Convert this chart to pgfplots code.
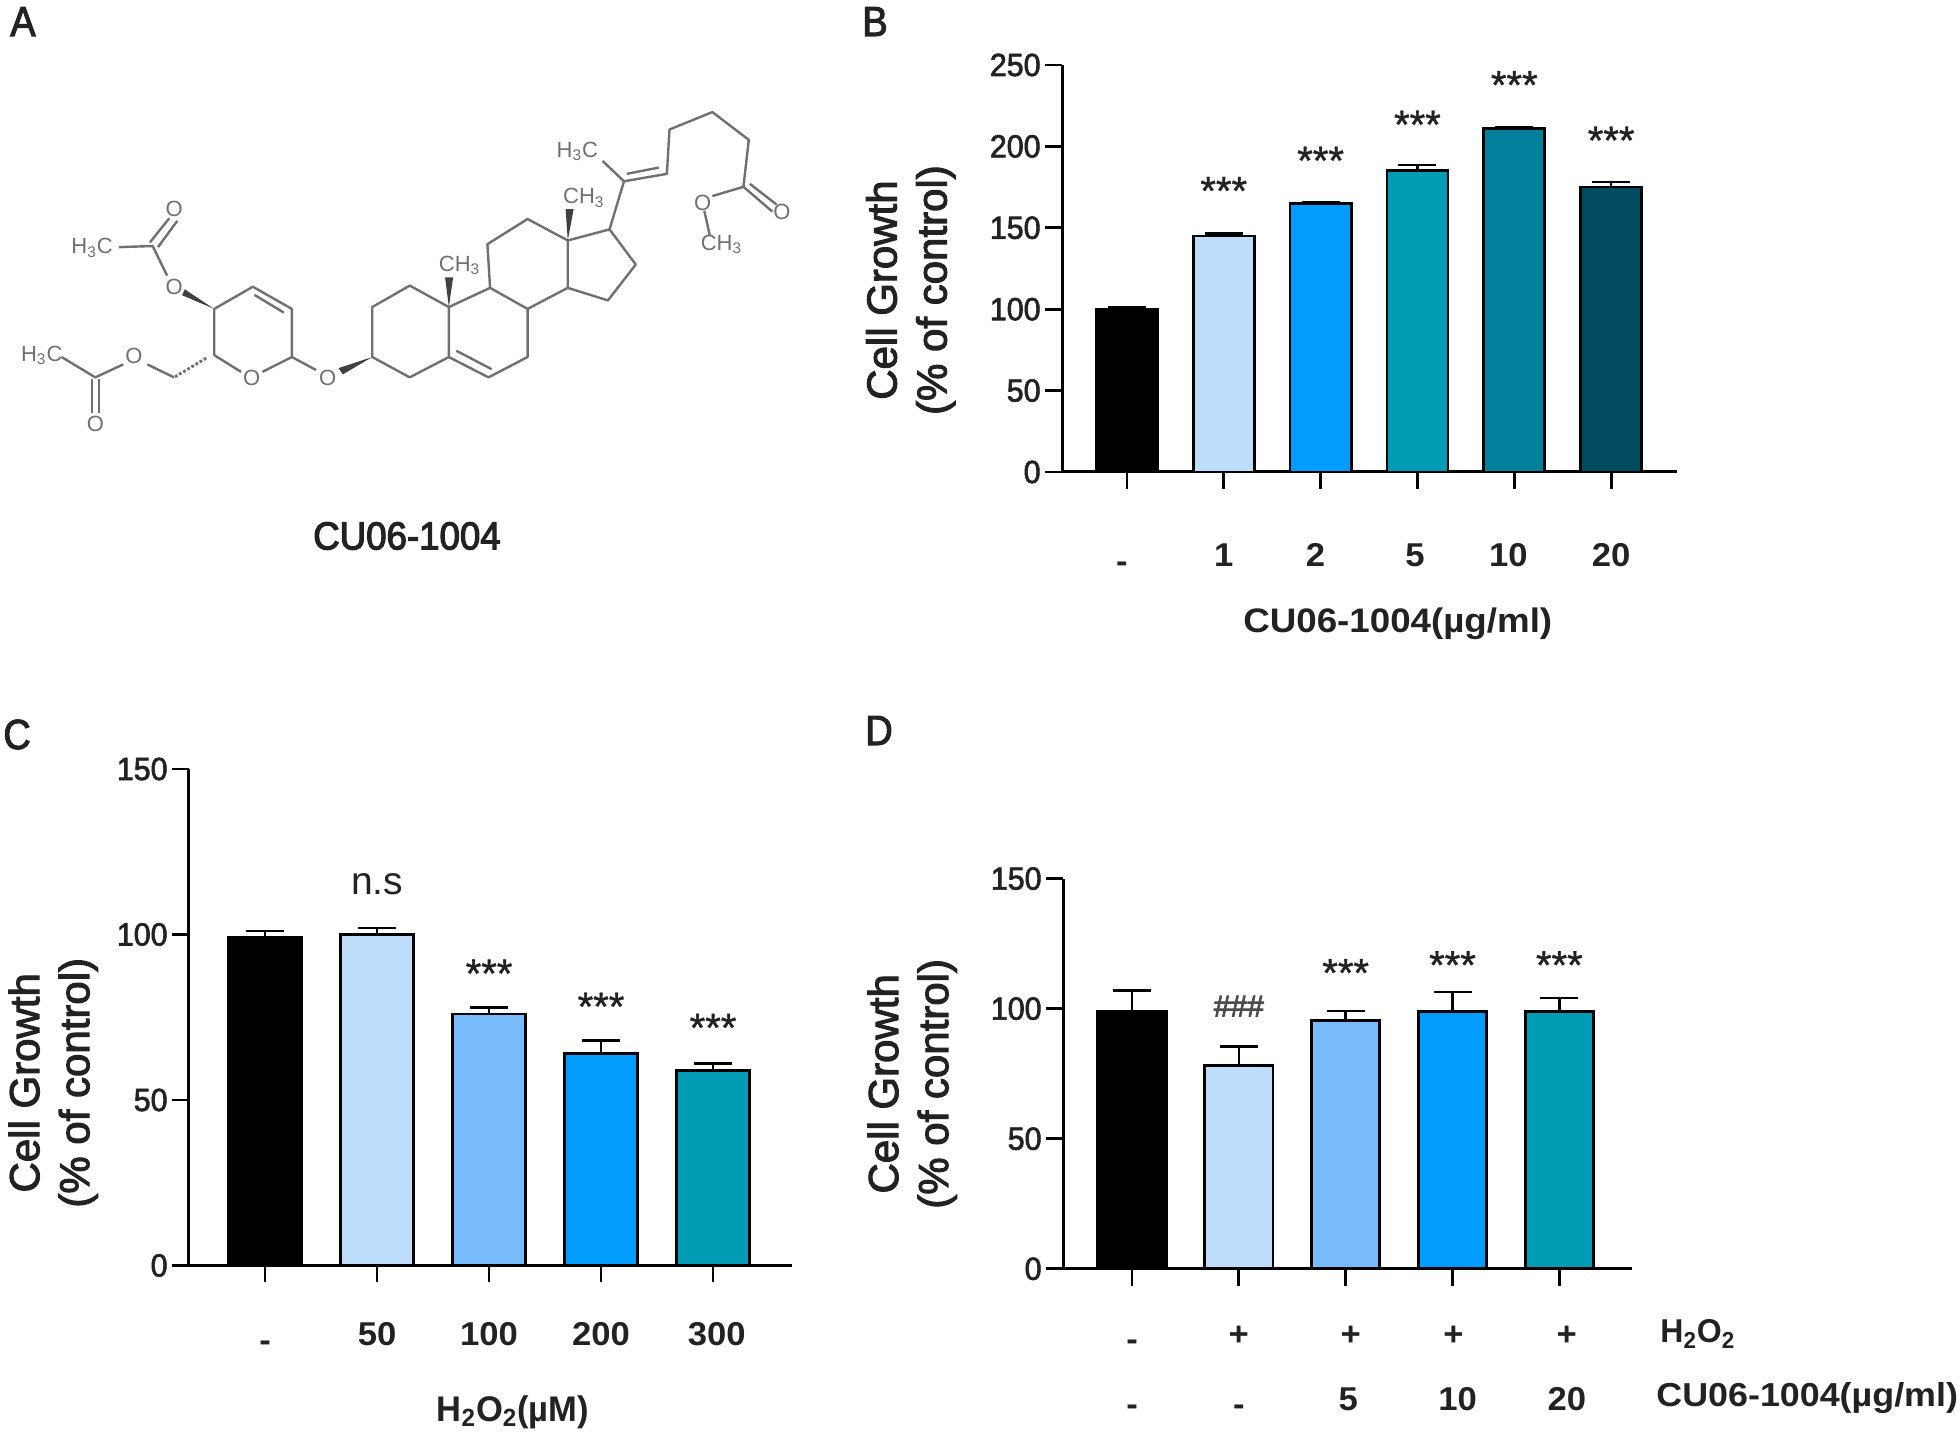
\documentclass[border=0pt]{standalone}
\usepackage{fontspec}
\usepackage{pgfplots}
\pgfplotsset{compat=1.18}
\setmainfont{Liberation Sans}
\newfontfamily\tickf[FakeStretch=0.95,FakeBold=2]{Liberation Sans}
\newfontfamily\catf[FakeStretch=1.05]{Liberation Sans Bold}
\newfontfamily\rowf[FakeStretch=0.97]{Liberation Sans Bold}
\newfontfamily\xlabf[FakeStretch=1.08]{Liberation Sans Bold}
\newfontfamily\labf[FakeBold=2.5]{Liberation Sans}
\newfontfamily\letf[FakeStretch=0.9,FakeBold=2.5]{Liberation Sans}
\newfontfamily\capf[FakeStretch=0.94,FakeBold=3]{Liberation Sans}
\newfontfamily\starf[FakeBold=1]{Liberation Sans}
\newfontfamily\hashf[FakeBold=3]{Liberation Sans}
\definecolor{c1}{HTML}{BEDDFA}
\definecolor{c2}{HTML}{77BBFB}
\definecolor{c3}{HTML}{009DFF}
\definecolor{c4}{HTML}{009BB5}
\definecolor{c5}{HTML}{00809B}
\definecolor{c6}{HTML}{004B60}
\definecolor{txt}{HTML}{222222}
\definecolor{mol}{HTML}{707070}
\newcommand{\dash}{\raisebox{-2.75pt}{-}}
\newcommand{\ph}{\vphantom{0}}
\pgfplotsset{
 panel/.style={
  scale only axis,
  axis lines*=left,
  axis line style={-,line width=1.5pt,black},
  tick align=outside,
  major tick length=8.5pt,
  tick style={black,line width=1.4pt},
  xtick pos=left, ytick pos=left,
  clip=false, ymin=0,
  /pgf/number format/assume math mode=true,
  yticklabel style={font=\tickf\fontsize{16}{16}\selectfont,text=txt,inner sep=2pt},
  xlabel style={text=txt,anchor=center},
  ylabel={Cell Growth\\(\% of control)},
 },
 pbar/.style={ybar,bar shift=0pt,draw=black,line width=1.4pt,
  /pgfplots/error bars/y dir=plus,/pgfplots/error bars/y explicit,
  /pgfplots/error bars/error bar style={black,line width=1.2pt},
  /pgfplots/error bars/error mark options={rotate=90,black,mark size=9.5pt,line width=1.2pt}},
}
\tikzset{
 stars/.style={font=\starf\fontsize{20}{20}\selectfont,anchor=base,text=txt,inner sep=0pt},
 lab/.style={font=\letf\fontsize{21}{21}\selectfont,anchor=base west,inner sep=0pt,text=txt},
 at-mol/.style={font=\fontsize{11}{12}\selectfont,text=mol,inner sep=0pt},
}
\begin{document}
\begin{tikzpicture}
\path[use as bounding box] (0,0) rectangle (980pt,717pt);
% panel letters
\node[lab] at (5pt,699pt) {A};
\node[lab] at (431pt,699pt) {B};
\node[lab] at (1.5pt,342.5pt) {C};
\node[lab] at (432.5pt,344.5pt) {D};
% panel A: structure
\begin{scope}[shift={(0,717pt)},x=0.2678pt,y=-0.185pt,draw=mol,line width=1.2pt,line join=round]
\draw (490,1005)--(545,965)--(545,835)--(472,775)--(400,835)--(400,960)--(450,1005);
\draw (475,797)--(530,845);
\node[at-mol] at (470,1022) {O};
\fill[black!75] (400,835)--(345,782)--(340,798)--cycle;
\node[at-mol] at (325,775) {O};
\draw (312,745)--(285,665)--(222,668);
\draw (280,655)--(316,590) (295,668)--(331,597);
\node[at-mol] at (325,565) {O};
\node[at-mol] at (172,670) {H\textsubscript{3}C};
\draw[densely dotted,line width=1.4pt] (385,968)--(325,1020);
\draw (325,1020)--(275,985);
\node[at-mol] at (250,962) {O};
\draw (230,985)--(178,1020)--(115,965);
\draw (172,1025)--(172,1115) (185,1025)--(185,1115);
\node[at-mol] at (178,1145) {O};
\node[at-mol] at (78,960) {H\textsubscript{3}C};
\draw (545,965)--(590,1000);
\node[at-mol] at (612,1022) {O};
\fill[black!75] (695,965)--(632,995)--(640,1012)--cycle;
\draw (695,965)--(695,830)--(765,772)--(838,830)--(838,965)--(765,1020)--cycle;
\draw (838,830)--(915,778)--(985,835)--(985,965)--(912,1020)--(838,965);
\draw (852,948)--(918,998);
\draw (915,778)--(910,660)--(985,592)--(1060,650)--(1060,778)--(985,835);
\draw (1060,650)--(1138,620)--(1187,715)--(1135,812)--(1060,778);
\fill[black!75] (838,830)--(831,750)--(846,750)--cycle;
\node[at-mol] at (858,718) {CH\textsubscript{3}};
\fill[black!75] (1060,650)--(1056,565)--(1071,565)--cycle;
\node[at-mol] at (1090,535) {CH\textsubscript{3}};
\draw (1138,620)--(1165,490)--(1125,435);
\node[at-mol] at (1078,410) {H\textsubscript{3}C};
\draw (1165,490)--(1245,470)--(1250,350)--(1330,303)--(1398,378)--(1388,505);
\draw (1170,470)--(1230,453);
\draw (1388,505)--(1442,572) (1400,497)--(1450,553);
\node[at-mol] at (1460,572) {O};
\draw (1388,505)--(1330,530);
\node[at-mol] at (1312,548) {O};
\draw (1315,570)--(1325,635);
\node[at-mol] at (1347,660) {CH\textsubscript{3}};
\end{scope}
\node[font=\capf\fontsize{19.5}{20}\selectfont,text=txt] at (203.5pt,449pt) {CU06-1004};
% panel B
\begin{axis}[panel,at={(531pt,481pt)},anchor=south west,width=307.5pt,height=203.5pt,
 xmin=-0.67,xmax=5.68,ymax=250,ytick={0,50,100,150,200,250},
 xtick={0,1,2,3,4,5},
 xticklabels={\hspace*{-5pt}\dash,1,\hspace*{-5pt}2,\hspace*{-2.5pt}5,\hspace*{-6pt}10,20},
 xticklabel style={font=\catf\fontsize{16.5}{17}\selectfont,text=txt,text height=12pt,yshift=-23.25pt},
 xlabel={CU06-1004(µg/ml)},
 xlabel style={font=\xlabf\fontsize{17}{20}\selectfont,at={(axis description cs:0.546,-0.373)}},
 ylabel style={at={(axis description cs:-0.246,0.447)},anchor=center,align=center,font=\labf\fontsize{21}{25}\selectfont,text=txt}]
\addplot[fill=black,bar width=0.63,pbar] coordinates {(0,100) +- (0,1.5)};
\addplot[fill=c1,bar width=0.63,pbar] coordinates {(1,145) +- (0,1.5)};
\addplot[fill=c3,bar width=0.63,pbar] coordinates {(2,165) +- (0,1)};
\addplot[fill=c4,bar width=0.63,pbar] coordinates {(3,185) +- (0,3.5)};
\addplot[fill=c5,bar width=0.63,pbar] coordinates {(4,211) +- (0,1)};
\addplot[fill=c6,bar width=0.63,pbar] coordinates {(5,175) +- (0,3)};
\node[stars] at (axis cs:1,164.3) {***};
\node[stars] at (axis cs:2,182.9) {***};
\node[stars] at (axis cs:3,205) {***};
\node[stars] at (axis cs:4,229.3) {***};
\node[stars] at (axis cs:5,195.3) {***};
\end{axis}
% panel C
\begin{axis}[panel,at={(94.5pt,84.25pt)},anchor=south west,width=301.5pt,height=248.25pt,
 xmin=-0.679,xmax=4.705,ymax=150,ytick={0,50,100,150},
 xtick={0,1,2,3,4},xticklabels={\dash,50,100,200,\hspace*{3.75pt}300},
 xticklabel style={font=\catf\fontsize{16.5}{17}\selectfont,text=txt,text height=12pt,yshift=-16pt},
 xlabel={H\textsubscript{2}O\textsubscript{2}(µM)},
 xlabel style={font=\rowf\fontsize{17.8}{20}\selectfont,at={(axis description cs:0.537,-0.295)}},
 ylabel style={at={(axis description cs:-0.225,0.368)},anchor=center,align=center,font=\labf\fontsize{21}{25}\selectfont,text=txt}]
\addplot[fill=black,bar width=0.65,pbar] coordinates {(0,99) +- (0,2)};
\addplot[fill=c1,bar width=0.65,pbar] coordinates {(1,100) +- (0,2)};
\addplot[fill=c2,bar width=0.65,pbar] coordinates {(2,76) +- (0,2)};
\addplot[fill=c3,bar width=0.65,pbar] coordinates {(3,64) +- (0,4)};
\addplot[fill=c4,bar width=0.65,pbar] coordinates {(4,59) +- (0,2)};
\node[stars,font=\fontsize{19.5}{20}\selectfont] at (axis cs:1,112) {n.s};
\node[stars] at (axis cs:2,84.1) {***};
\node[stars] at (axis cs:3,74.1) {***};
\node[stars] at (axis cs:4,67.7) {***};
\end{axis}
% panel D
\begin{axis}[panel,at={(531.5pt,82.6pt)},anchor=south west,width=284.5pt,height=195.1pt,
 xmin=-0.646,xmax=4.68,ymax=150,ytick={0,50,100,150},
 xtick={0,1,2,3,4},
 xticklabels={{\ph\dash\\\ph\dash},{\ph+\\\ph\dash},{\hspace*{5pt}\ph+\\\hspace*{2.5pt}5},{\hspace*{1pt}\ph+\\\hspace*{5pt}10},{\hspace*{7.5pt}\ph+\\\hspace*{7.5pt}20}},
 xticklabel style={align=center,font=\catf\fontsize{16.5}{32.5}\selectfont,text=txt,yshift=-14.6pt},
 ylabel style={at={(axis description cs:-0.265,0.474)},anchor=center,align=center,font=\labf\fontsize{21}{25}\selectfont,text=txt}]
\addplot[fill=black,bar width=0.64,pbar] coordinates {(0,99) +- (0,8)};
\addplot[fill=c1,bar width=0.64,pbar] coordinates {(1,78) +- (0,7.5)};
\addplot[fill=c2,bar width=0.64,pbar] coordinates {(2,95.5) +- (0,3.5)};
\addplot[fill=c3,bar width=0.64,pbar] coordinates {(3,99) +- (0,7.5)};
\addplot[fill=c4,bar width=0.64,pbar] coordinates {(4,99) +- (0,5)};
\node[stars,font=\hashf\fontsize{15}{15}\selectfont,text=black!70] at (axis cs:1,97) {\#\#\#};
\node[stars] at (axis cs:2,108.5) {***};
\node[stars] at (axis cs:3,111.5) {***};
\node[stars] at (axis cs:4,111.5) {***};
\end{axis}
\node[anchor=west,inner sep=0pt,font=\rowf\fontsize{16.5}{20}\selectfont,text=txt] at (830pt,50pt) {H\textsubscript{2}O\textsubscript{2}};
\node[anchor=west,inner sep=0pt,font=\xlabf\fontsize{16.6}{20}\selectfont,text=txt] at (828pt,18pt) {CU06-1004(µg/ml)};
\end{tikzpicture}
\end{document}
